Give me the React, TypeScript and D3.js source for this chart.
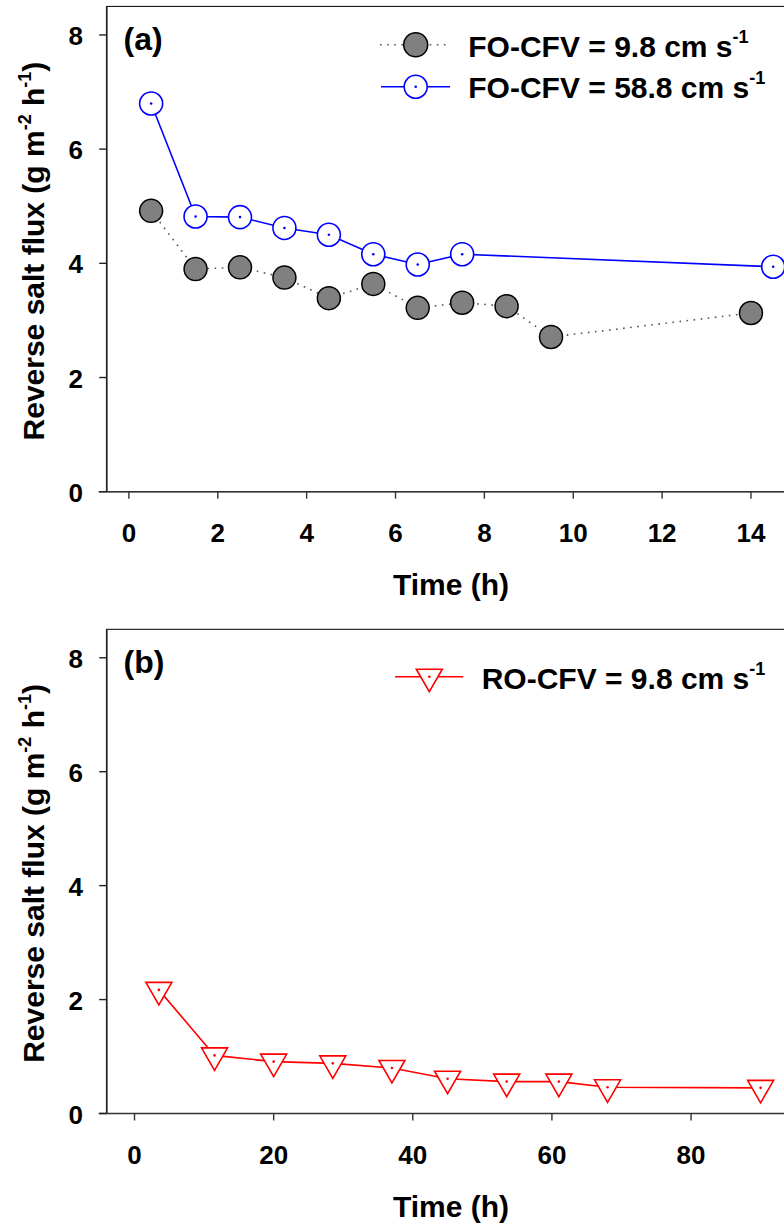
import React from "react";
import * as d3 from "d3";

// ---------- Data ----------
const timeLowA = [0.5, 1.5, 2.5, 3.5, 4.5, 5.5, 6.5, 7.5, 8.5, 9.5, 14.0];
const fluxLowA = [4.92, 3.9, 3.93, 3.75, 3.39, 3.64, 3.22, 3.31, 3.25, 2.71, 3.13];
const timeHighA = [0.5, 1.5, 2.5, 3.5, 4.5, 5.5, 6.5, 7.5, 14.5];
const fluxHighA = [6.8, 4.82, 4.81, 4.62, 4.5, 4.16, 3.98, 4.16, 3.94];
const timeRO = [3.5, 11.5, 20, 28.5, 37, 45, 53.5, 61, 68, 90];
const fluxRO = [2.17, 1.02, 0.91, 0.88, 0.8, 0.61, 0.56, 0.56, 0.46, 0.45];
const xTicksA = [0, 2, 4, 6, 8, 10, 12, 14];
const xTicksB = [0, 20, 40, 60, 80];
const yTicks = [0, 2, 4, 6, 8];
const legendA = ["FO-CFV = 9.8 cm s", "FO-CFV = 58.8 cm s"];
const legendB = ["RO-CFV = 9.8 cm s"];

const FONT = "'Liberation Sans', Arial, Helvetica, sans-serif";
const W = 784;
const H = 1224;
const LEFT = 106.7;
const RIGHT = 795.4;

type Panel = {
  top: number;
  bottom: number;
};

const PA: Panel = { top: 6.4, bottom: 491.7 };
const PB: Panel = { top: 629.3, bottom: 1113.5 };

function Axes({
  p,
  x,
  y,
  xTicks,
  label,
}: {
  p: Panel;
  x: d3.ScaleLinear<number, number>;
  y: d3.ScaleLinear<number, number>;
  xTicks: number[];
  label: string;
}) {
  const midY = (p.top + p.bottom) / 2 + 2;
  return (
    <g>
      <rect
        x={LEFT}
        y={p.top}
        width={RIGHT - LEFT}
        height={p.bottom - p.top}
        fill="none"
        stroke="#000"
        strokeWidth={1}
      />
      <line x1={LEFT} x2={LEFT} y1={p.top} y2={p.bottom} stroke="#222" strokeWidth={1.6} />
      <line x1={LEFT - 8} x2={RIGHT} y1={p.bottom} y2={p.bottom} stroke="#333" strokeWidth={1.6} />
      {yTicks.map((t) => (
        <g key={"y" + t}>
          <line x1={LEFT - 7.5} x2={LEFT} y1={y(t)} y2={y(t)} stroke="#222" strokeWidth={1.4} />
          <text
            x={83}
            y={y(t) + 10}
            textAnchor="end"
            fontFamily={FONT}
            fontWeight="bold"
            fontSize={26}
            fill="#000"
          >
            {t}
          </text>
        </g>
      ))}
      {xTicks.map((t) => (
        <g key={"x" + t}>
          <line x1={x(t)} x2={x(t)} y1={p.bottom} y2={p.bottom + 7} stroke="#333" strokeWidth={1.4} />
          <text
            x={x(t)}
            y={p.bottom + 50}
            textAnchor="middle"
            fontFamily={FONT}
            fontWeight="bold"
            fontSize={26}
            fill="#000"
          >
            {t}
          </text>
        </g>
      ))}
      <text
        x={(LEFT + RIGHT) / 2}
        y={p.bottom + 103}
        textAnchor="middle"
        fontFamily={FONT}
        fontWeight="bold"
        fontSize={30}
        fill="#000"
      >
        Time (h)
      </text>
      <text
        transform={`translate(43.5, ${midY}) rotate(-90)`}
        textAnchor="middle"
        fontFamily={FONT}
        fontWeight="bold"
        fontSize={30}
        fill="#000"
      >
        <tspan>Reverse salt flux (g m</tspan>
        <tspan fontSize={18} dy={-13}>-2</tspan>
        <tspan dy={13}> h</tspan>
        <tspan fontSize={18} dy={-13}>-1</tspan>
        <tspan dy={13}>)</tspan>
      </text>
      <text x={123.5} y={p.top + 44} fontFamily={FONT} fontWeight="bold" fontSize={32} fill="#000">
        {label}
      </text>
    </g>
  );
}

function LegendText({ x, y, text }: { x: number; y: number; text: string }) {
  return (
    <text x={x} y={y} fontFamily={FONT} fontWeight="bold" fontSize={30} fill="#000">
      <tspan>{text}</tspan>
      <tspan fontSize={18} dy={-14}>-1</tspan>
    </text>
  );
}

function triPath(cx: number, cy: number) {
  // downward triangle with centroid at (cx, cy)
  const w = 26;
  const h = 22.5;
  const topY = cy - h / 3;
  const botY = cy + (2 * h) / 3;
  return `M${cx - w / 2},${topY}L${cx + w / 2},${topY}L${cx},${botY}Z`;
}

export default function App() {
  const xA = d3.scaleLinear().domain([-0.5, 15]).range([LEFT, RIGHT]);
  const yA = d3.scaleLinear().domain([0, 8.5]).range([PA.bottom, PA.top]);
  const xB = d3.scaleLinear().domain([-4, 95]).range([LEFT, RIGHT]);
  const yB = d3.scaleLinear().domain([0, 8.5]).range([PB.bottom, PB.top]);

  const lowPts = timeLowA.map((t, i) => [xA(t), yA(fluxLowA[i])] as [number, number]);
  const highPts = timeHighA.map((t, i) => [xA(t), yA(fluxHighA[i])] as [number, number]);
  const roPts = timeRO.map((t, i) => [xB(t), yB(fluxRO[i])] as [number, number]);
  const line = d3.line();

  return (
    <div style={{ position: "absolute", left: 0, top: 0, width: W, height: H, overflow: "hidden" }}>
      <svg width={W} height={H} viewBox={`0 0 ${W} ${H}`} style={{ display: "block", background: "#fff" }}>
        <rect x={0} y={0} width={W} height={H} fill="#fff" />
        {/* Panel (a) */}
        <Axes p={PA} x={xA} y={yA} xTicks={xTicksA} label="(a)" />
        <path d={line(lowPts) || ""} fill="none" stroke="#555" strokeWidth={1.6} strokeDasharray="1.6,5.5" />
        <path d={line(highPts) || ""} fill="none" stroke="#0000ff" strokeWidth={1.6} />
        {lowPts.map(([cx, cy], i) => (
          <circle key={"l" + i} cx={cx} cy={cy} r={11.5} fill="#808080" stroke="#000" strokeWidth={1.5} />
        ))}
        {highPts.map(([cx, cy], i) => (
          <g key={"h" + i}>
            <circle cx={cx} cy={cy} r={11.5} fill="#fff" stroke="#0000ff" strokeWidth={1.6} />
            <circle cx={cx} cy={cy} r={1.3} fill="#0000ff" />
          </g>
        ))}
        {/* legend a */}
        <line x1={380} x2={447} y1={44.7} y2={44.7} stroke="#555" strokeWidth={1.6} strokeDasharray="1.6,5.5" />
        <circle cx={415.7} cy={44.7} r={12} fill="#808080" stroke="#000" strokeWidth={1.5} />
        <LegendText x={468.3} y={56.7} text={legendA[0]} />
        <line x1={381} x2={450} y1={86.7} y2={86.7} stroke="#0000ff" strokeWidth={1.6} />
        <circle cx={415.7} cy={86.7} r={11.5} fill="#fff" stroke="#0000ff" strokeWidth={1.6} />
        <circle cx={415.7} cy={86.7} r={1.3} fill="#0000ff" />
        <LegendText x={468.3} y={98.3} text={legendA[1]} />

        {/* Panel (b) */}
        <Axes p={PB} x={xB} y={yB} xTicks={xTicksB} label="(b)" />
        <path d={line(roPts) || ""} fill="none" stroke="#ff0000" strokeWidth={1.6} />
        {roPts.map(([cx, cy], i) => (
          <g key={"r" + i}>
            <path d={triPath(cx, cy)} fill="#fff" stroke="#ff0000" strokeWidth={1.6} />
            <circle cx={cx} cy={cy} r={1.3} fill="#ff0000" />
          </g>
        ))}
        {/* legend b */}
        <line x1={395} x2={463.3} y1={676.7} y2={676.7} stroke="#ff0000" strokeWidth={1.6} />
        <path d={triPath(429.3, 676.7)} fill="#fff" stroke="#ff0000" strokeWidth={1.6} />
        <circle cx={429.3} cy={676.7} r={1.3} fill="#ff0000" />
        <LegendText x={481.7} y={689.3} text={legendB[0]} />
      </svg>
    </div>
  );
}
